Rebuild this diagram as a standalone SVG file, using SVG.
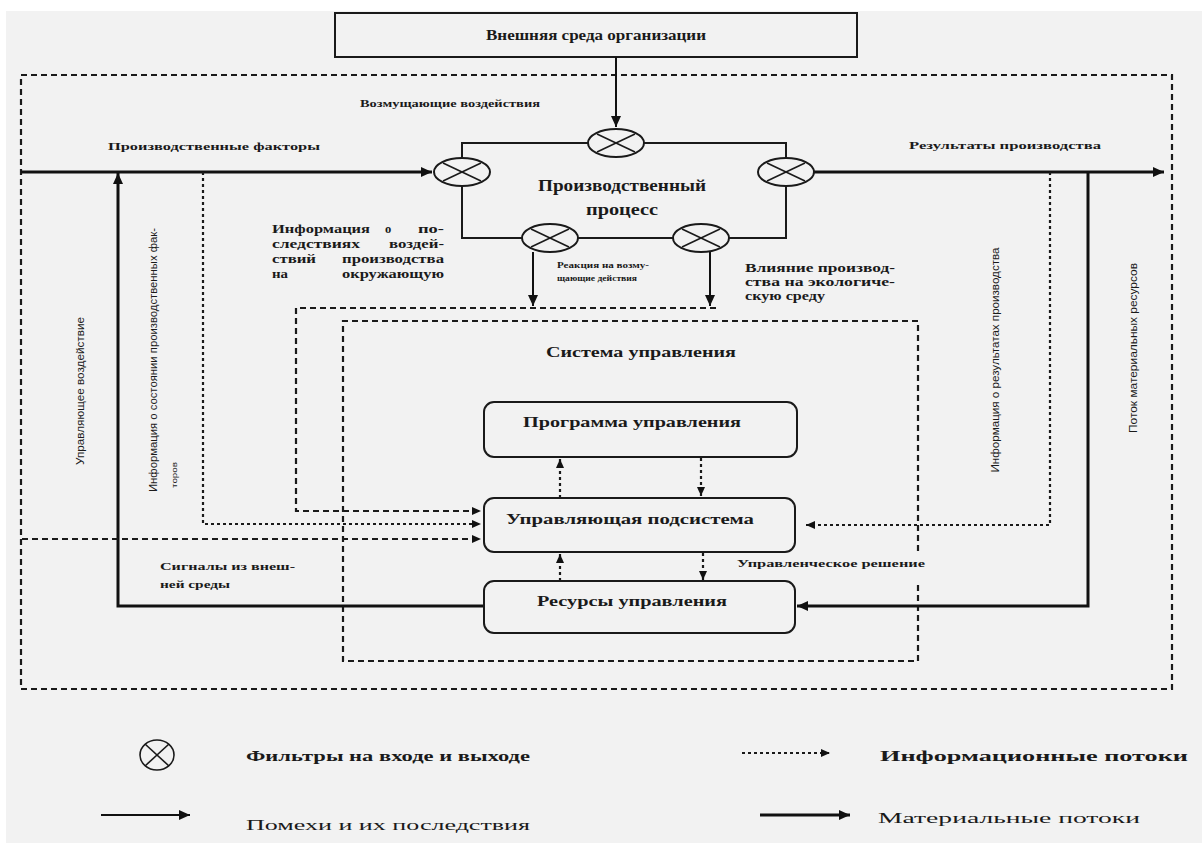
<svg xmlns="http://www.w3.org/2000/svg" width="1202" height="843" viewBox="0 0 1202 843">
<style>
.bg{fill:#f2f2f2}
.box{fill:#f2f2f2;stroke:#1a1a1a;stroke-width:2}
.proc{fill:none;stroke:#1a1a1a;stroke-width:2}
.filt{fill:#f2f2f2;stroke:#1a1a1a;stroke-width:2}
.x{stroke:#1a1a1a;stroke-width:1.6}
.dash{fill:none;stroke:#1a1a1a;stroke-width:2.2;stroke-dasharray:6 4}
.dot{fill:none;stroke:#1a1a1a;stroke-width:2.2;stroke-dasharray:3 3}
.solid{fill:none;stroke:#111;stroke-width:2}
.thick{fill:none;stroke:#111;stroke-width:3}
.t{font-family:"Liberation Serif","Times New Roman","DejaVu Serif",serif;font-weight:bold;fill:#1a1a1a}
.s{font-family:"Liberation Sans","DejaVu Sans",sans-serif;fill:#1a1a1a}
.n{font-family:"Liberation Serif","Times New Roman","DejaVu Serif",serif;fill:#1a1a1a}
</style>
<defs>
<marker id="ah" markerUnits="userSpaceOnUse" markerWidth="12" markerHeight="12" refX="11" refY="6" orient="auto">
<path d="M0,1 L11,6 L0,11 Z" fill="#111"/>
</marker>
<marker id="ahs" markerUnits="userSpaceOnUse" markerWidth="10" markerHeight="10" refX="9" refY="5" orient="auto">
<path d="M0,1 L9,5 L0,9 Z" fill="#111"/>
</marker>
<g id="fx"><line class="x" x1="-19" y1="-9" x2="19" y2="9"/><line class="x" x1="-19" y1="9" x2="19" y2="-9"/></g>
</defs>
<rect x="0" y="0" width="1202" height="843" fill="#ffffff"/>
<rect class="bg" x="6" y="11" width="1196" height="832"/>

<g id="title">
<rect x="335" y="13" width="522" height="44" fill="#f2f2f2" stroke="#1a1a1a" stroke-width="2"/>
<text class="t" x="596" y="40" font-size="14" text-anchor="middle" textLength="220" lengthAdjust="spacingAndGlyphs">Внешняя среда организации</text>
</g>

<g id="environment">
<rect class="dash" x="21" y="75" width="1151" height="614"/>
</g>

<g id="system">
<path class="dash" d="M918,551 V321 H343 V661 H918 V583"/>
<text class="t" x="641" y="357" font-size="14" text-anchor="middle" textLength="190" lengthAdjust="spacingAndGlyphs">Система управления</text>
</g>

<g id="connectors">
<path class="thick" d="M21,172 H432" marker-end="url(#ah)"/>
<path class="solid" d="M616,57 V127" marker-end="url(#ah)"/>
<path class="thick" d="M813,172 H1164" marker-end="url(#ah)"/>
<path class="thick" d="M484,606 H118 V173" marker-end="url(#ah)"/>
<path class="thick" d="M1088,172 V606 H797" marker-end="url(#ah)"/>
<path class="solid" d="M533,252 V306" marker-end="url(#ah)"/>
<path class="solid" d="M710,252 V306" marker-end="url(#ah)"/>
<path class="dash" d="M716,308 H296 V511 H481" marker-end="url(#ahs)"/>
<path class="dot" d="M203,172 V524 H481" marker-end="url(#ahs)"/>
<path class="dash" d="M22,539 H481" marker-end="url(#ahs)"/>
<path class="dot" d="M1050,172 V525 H806" marker-end="url(#ahs)"/>
<path class="dot" d="M560,498 V459" marker-end="url(#ahs)"/>
<path class="dot" d="M701,458 V496" marker-end="url(#ahs)"/>
<path class="dot" d="M560,581 V554" marker-end="url(#ahs)"/>
<path class="dot" d="M703,553 V580" marker-end="url(#ahs)"/>
</g>

<g id="process">
<rect class="proc" x="462" y="143" width="324" height="95"/>
<text class="t" x="622" y="191" font-size="17" text-anchor="middle" textLength="168" lengthAdjust="spacingAndGlyphs">Производственный</text>
<text class="t" x="622" y="215" font-size="17" text-anchor="middle" textLength="72" lengthAdjust="spacingAndGlyphs">процесс</text>
</g>

<g id="filter-in">
<ellipse class="filt" cx="462" cy="172" rx="28" ry="14"/><use href="#fx" x="462" y="172"/>
</g>
<g id="filter-top">
<ellipse class="filt" cx="616" cy="143" rx="28" ry="14"/><use href="#fx" x="616" y="143"/>
</g>
<g id="filter-out">
<ellipse class="filt" cx="786" cy="172" rx="28" ry="14"/><use href="#fx" x="786" y="172"/>
</g>
<g id="filter-bottom-left">
<ellipse class="filt" cx="550" cy="238" rx="28" ry="14"/><use href="#fx" x="550" y="238"/>
</g>
<g id="filter-bottom-right">
<ellipse class="filt" cx="701" cy="238" rx="28" ry="14"/><use href="#fx" x="701" y="238"/>
</g>

<g id="program">
<rect class="box" x="484" y="402" width="313" height="55" rx="10"/>
<text class="t" x="632" y="427" font-size="15" text-anchor="middle" textLength="218" lengthAdjust="spacingAndGlyphs">Программа управления</text>
</g>
<g id="control-subsystem">
<rect class="box" x="484" y="498" width="311" height="54" rx="10"/>
<text class="t" x="630" y="524" font-size="15" text-anchor="middle" textLength="248" lengthAdjust="spacingAndGlyphs">Управляющая подсистема</text>
</g>
<g id="resources">
<rect class="box" x="484" y="581" width="311" height="52" rx="10"/>
<text class="t" x="632" y="606" font-size="15" text-anchor="middle" textLength="190" lengthAdjust="spacingAndGlyphs">Ресурсы управления</text>
</g>

<g id="labels">
<text class="t" x="360" y="107" font-size="11" textLength="180" lengthAdjust="spacingAndGlyphs">Возмущающие воздействия</text>
<text class="t" x="108" y="150" font-size="11" textLength="212" lengthAdjust="spacingAndGlyphs">Производственные факторы</text>
<text class="t" x="909" y="149" font-size="11" textLength="192" lengthAdjust="spacingAndGlyphs">Результаты производства</text>

<text class="t" font-size="12.5" x="272" y="233" textLength="98" lengthAdjust="spacingAndGlyphs">Информация</text>
<text class="t" font-size="12.5" x="385" y="233">о</text>
<text class="t" font-size="12.5" x="418" y="233" textLength="26" lengthAdjust="spacingAndGlyphs">по-</text>
<text class="t" font-size="12.5" x="272" y="248" textLength="88" lengthAdjust="spacingAndGlyphs">следствиях</text>
<text class="t" font-size="12.5" x="389" y="248" textLength="55" lengthAdjust="spacingAndGlyphs">воздей-</text>
<text class="t" font-size="12.5" x="272" y="263" textLength="44" lengthAdjust="spacingAndGlyphs">ствий</text>
<text class="t" font-size="12.5" x="342" y="263" textLength="102" lengthAdjust="spacingAndGlyphs">производства</text>
<text class="t" font-size="12.5" x="272" y="278" textLength="16" lengthAdjust="spacingAndGlyphs">на</text>
<text class="t" font-size="12.5" x="342" y="278" textLength="102" lengthAdjust="spacingAndGlyphs">окружающую</text>

<text class="t" x="557" y="268" font-size="8.5" textLength="92" lengthAdjust="spacingAndGlyphs">Реакция на возму-</text>
<text class="t" x="557" y="281" font-size="8.5" textLength="80" lengthAdjust="spacingAndGlyphs">щающие действия</text>

<text class="t" x="745" y="272" font-size="11.5" textLength="150" lengthAdjust="spacingAndGlyphs">Влияние производ-</text>
<text class="t" x="745" y="286" font-size="11.5" textLength="150" lengthAdjust="spacingAndGlyphs">ства на экологиче-</text>
<text class="t" x="745" y="300" font-size="11.5" textLength="80" lengthAdjust="spacingAndGlyphs">скую среду</text>

<text class="t" x="160" y="570" font-size="10" textLength="135" lengthAdjust="spacingAndGlyphs">Сигналы из внеш-</text>
<text class="t" x="160" y="588" font-size="10" textLength="70" lengthAdjust="spacingAndGlyphs">ней среды</text>

<text class="t" x="737" y="567" font-size="10" textLength="188" lengthAdjust="spacingAndGlyphs">Управленческое решение</text>

<text class="s" font-size="10.5" text-anchor="middle" transform="translate(84,391) rotate(-90)" textLength="148" lengthAdjust="spacingAndGlyphs">Управляющее воздействие</text>
<text class="s" font-size="10.5" text-anchor="middle" transform="translate(157,360) rotate(-90)" textLength="264" lengthAdjust="spacingAndGlyphs">Информация о состоянии производственных фак-</text>
<text class="s" font-size="7" text-anchor="middle" transform="translate(177,475) rotate(-90)" textLength="26" lengthAdjust="spacingAndGlyphs">торов</text>
<text class="s" font-size="10.5" text-anchor="middle" transform="translate(999,360) rotate(-90)" textLength="225" lengthAdjust="spacingAndGlyphs">Информация о результатах производства</text>
<text class="s" font-size="10.5" text-anchor="middle" transform="translate(1137,348) rotate(-90)" textLength="170" lengthAdjust="spacingAndGlyphs">Поток материальных ресурсов</text>
</g>

<g id="legend">
<g id="legend-filter">
<ellipse cx="157" cy="755" rx="17" ry="15" fill="none" stroke="#1a1a1a" stroke-width="1.6"/>
<line class="x" x1="145" y1="744" x2="169" y2="766"/><line class="x" x1="145" y1="766" x2="169" y2="744"/>
<text class="t" x="246" y="761" font-size="15" textLength="284" lengthAdjust="spacingAndGlyphs">Фильтры на входе и выходе</text>
</g>
<g id="legend-info">
<path class="dot" d="M742,753 H830" stroke-width="2" marker-end="url(#ahs)"/>
<text class="t" x="880" y="761" font-size="15" textLength="308" lengthAdjust="spacingAndGlyphs">Информационные потоки</text>
</g>
<g id="legend-noise">
<path class="solid" d="M101,815 H190" marker-end="url(#ah)"/>
<text class="n" x="246" y="830" font-size="15" textLength="284" lengthAdjust="spacingAndGlyphs">Помехи и их последствия</text>
</g>
<g id="legend-material">
<path class="thick" d="M760,815 H850" marker-end="url(#ah)"/>
<text class="n" x="878" y="823" font-size="15" textLength="262" lengthAdjust="spacingAndGlyphs">Материальные потоки</text>
</g>
</g>
</svg>
